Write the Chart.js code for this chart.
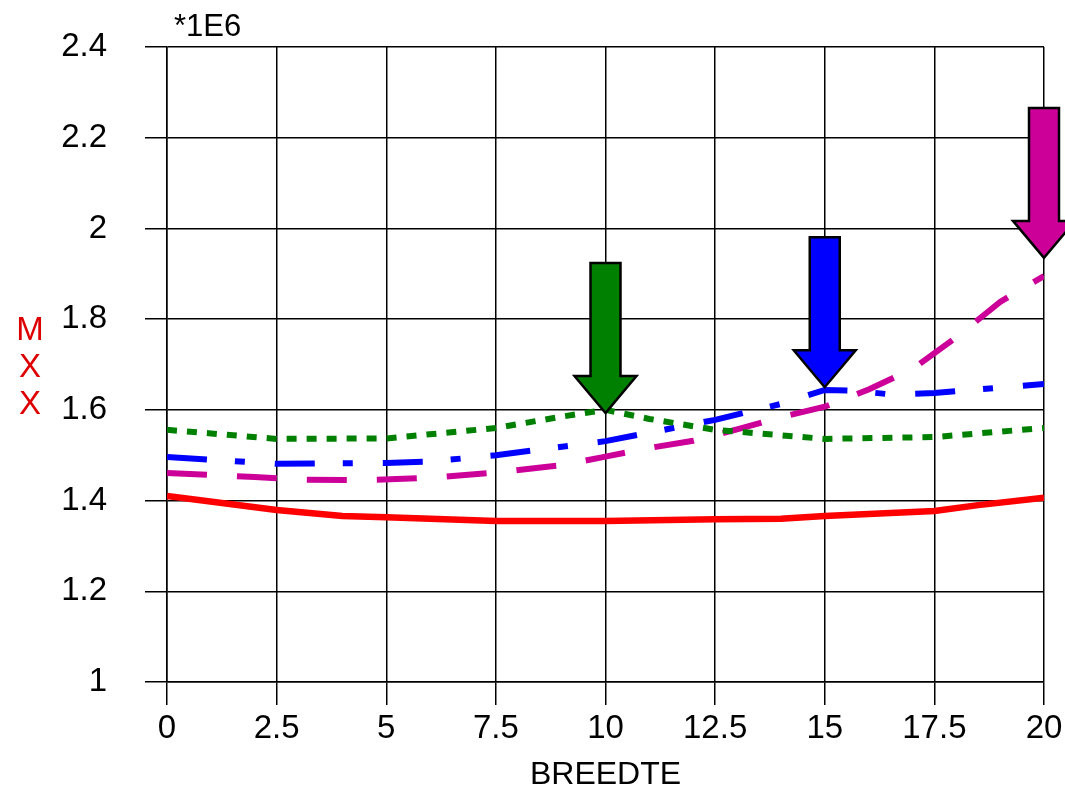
<!DOCTYPE html>
<html lang="nl">
<head>
<meta charset="UTF-8">
<title>MXX - BREEDTE</title>
<style>
    * { margin: 0; padding: 0; box-sizing: border-box; }
    body { background: #fff; }
    .chart-box { position: relative; width: 1065px; height: 791px; }
</style>
<script src="https://cdn.jsdelivr.net/npm/chart.js"></script>
</head>
<body>
<div class="chart-box">
    <canvas id="mxxChart"></canvas>
</div>
<script>
    // data (values in units of 1E6)
    const xTicks = [0, 2.5, 5, 7.5, 10, 12.5, 15, 17.5, 20];
    const yTicks = [1, 1.2, 1.4, 1.6, 1.8, 2, 2.2, 2.4];

    const redX = [0, 2.5, 4, 5, 7.5, 10, 12.5, 14, 15, 17.5, 18.5, 20];
    const redY = [1.41, 1.379, 1.366, 1.363, 1.355, 1.355, 1.359, 1.36, 1.366, 1.377, 1.39, 1.406];

    const greenX = [0, 1, 2.5, 5, 7.5, 9, 10, 11, 12.5, 15, 17.5, 20];
    const greenY = [1.556, 1.548, 1.536, 1.537, 1.56, 1.585, 1.6, 1.58, 1.556, 1.536, 1.54, 1.56];

    const blueX = [0, 2.5, 5, 6, 7.5, 10, 12.5, 14, 15, 15.7, 16.5, 17.5, 20];
    const blueY = [1.496, 1.481, 1.483, 1.486, 1.5, 1.531, 1.578, 1.613, 1.644, 1.642, 1.634, 1.637, 1.657];

    const pinkX = [0, 2, 3, 4.5, 6, 7.5, 9, 10, 11, 12, 13, 14, 15, 16, 17, 18, 19, 20];
    const pinkY = [1.461, 1.452, 1.446, 1.445, 1.45, 1.462, 1.478, 1.497, 1.516, 1.532, 1.557, 1.584, 1.607, 1.645, 1.69, 1.76, 1.838, 1.895];

    // arrow tips (x, y) and colours
    const arrowX = [10, 15, 20];
    const arrowY = [1.593, 1.65, 1.935];
    const arrowColors = ['#008000', '#0000ff', '#cc0099'];

    const yTitle = 'MXX';
    const xTitle = 'BREEDTE';
    const scaleNote = '*1E6';

    const FONT = 'Arial, "Liberation Sans", sans-serif';

    function pts(xs, ys) {
        return xs.map((x, i) => ({ x: x, y: ys[i] }));
    }

    // no extra room for overflowing tick labels, the layout padding handles it
    function noOverflow(s) {
        s.paddingTop = 0;
        s.paddingBottom = 0;
        s.paddingLeft = 0;
        s.paddingRight = 0;
    }

    // draws the y title, the *1E6 note and the arrows
    const extras = {
        id: 'extras',
        afterDraw(chart) {
            const c = chart.ctx;
            const xs = chart.scales.x, ys = chart.scales.y;
            c.save();

            c.fillStyle = '#000';
            c.font = '31px ' + FONT;
            c.textAlign = 'left';
            c.textBaseline = 'alphabetic';
            c.fillText(scaleNote, 174, 36);

            c.fillStyle = '#dd0000';
            c.font = '33px ' + FONT;
            c.textAlign = 'center';
            c.textBaseline = 'middle';
            yTitle.split('').forEach((ch, i) => {
                c.fillText(ch, 30, 331 + i * 37);
            });

            // arrows pointing down at a point
            const len = 150, headH = 37, headW = 31, shaftW = 15;
            arrowX.forEach((ax, i) => {
                const tx = xs.getPixelForValue(ax);
                const ty = ys.getPixelForValue(arrowY[i]);
                c.beginPath();
                c.moveTo(tx, ty);
                c.lineTo(tx - headW, ty - headH);
                c.lineTo(tx - shaftW, ty - headH);
                c.lineTo(tx - shaftW, ty - len);
                c.lineTo(tx + shaftW, ty - len);
                c.lineTo(tx + shaftW, ty - headH);
                c.lineTo(tx + headW, ty - headH);
                c.closePath();
                c.fillStyle = arrowColors[i];
                c.fill();
                c.lineWidth = 2.5;
                c.strokeStyle = '#000';
                c.lineJoin = 'miter';
                c.stroke();
            });
            c.restore();
        }
    };

    const ctx = document.getElementById('mxxChart').getContext('2d');
    new Chart(ctx, {
        type: 'line',
        data: {
            datasets: [
                { data: pts(redX, redY), borderColor: '#ff0000', borderWidth: 6.5 },
                { data: pts(greenX, greenY), borderColor: '#008000', borderWidth: 6, borderDash: [10, 10] },
                { data: pts(blueX, blueY), borderColor: '#0000ff', borderWidth: 6, borderDash: [40, 28, 10, 30] },
                { data: pts(pinkX, pinkY), borderColor: '#cc0099', borderWidth: 6, borderDash: [40, 30] }
            ]
        },
        options: {
            responsive: true,
            maintainAspectRatio: false,
            animation: false,
            layout: { padding: { top: 47, right: 21, left: 0, bottom: 0 } },
            elements: {
                point: { radius: 0 },
                line: { tension: 0, fill: false, borderCapStyle: 'butt' }
            },
            plugins: {
                legend: { display: false },
                tooltip: { enabled: false }
            },
            scales: {
                x: {
                    type: 'linear',
                    min: 0,
                    max: 20,
                    afterBuildTicks: s => { s.ticks = xTicks.map(v => ({ value: v })); },
                    afterFit: s => { s.height = 109; noOverflow(s); },
                    grid: { color: '#000', lineWidth: 1.5, tickLength: 23, drawTicks: true },
                    border: { color: '#000', width: 1.5 },
                    ticks: { color: '#000', font: { size: 33, family: FONT }, padding: 4, maxRotation: 0,
                             callback: v => String(+v.toFixed(1)) },
                    title: { display: true, text: xTitle, color: '#000',
                             font: { size: 32, family: FONT, lineHeight: 1 }, padding: { top: 0, bottom: 0 } }
                },
                y: {
                    min: 1,
                    max: 2.4,
                    afterBuildTicks: s => { s.ticks = yTicks.map(v => ({ value: v })); },
                    afterFit: s => { s.width = 167; noOverflow(s); },
                    grid: { color: '#000', lineWidth: 1.5, tickLength: 22 },
                    border: { color: '#000', width: 1.5 },
                    ticks: { color: '#000', font: { size: 33, family: FONT }, padding: 38,
                             callback: v => String(+v.toFixed(1)) }
                }
            }
        },
        plugins: [extras]
    });
</script>
</body>
</html>
